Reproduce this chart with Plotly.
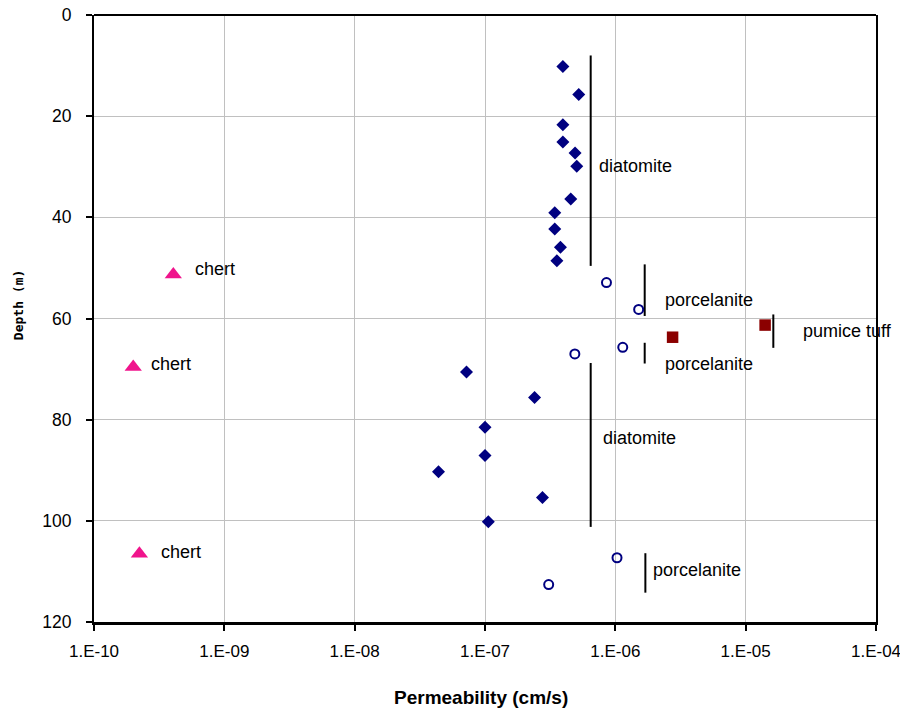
import math
import plotly.graph_objects as go

# ---- data ----
diatomite_perm = [3.96e-7, 5.24e-7, 3.96e-7, 3.96e-7, 4.91e-7, 5.06e-7, 4.55e-7, 3.43e-7, 3.43e-7, 3.79e-7, 3.56e-7,
                  7.21e-8, 2.40e-7, 1.0e-7, 1.0e-7, 4.40e-8, 2.76e-7, 1.06e-7]
diatomite_depth = [10.2, 15.7, 21.7, 25.1, 27.3, 29.9, 36.4, 39.1, 42.3, 45.9, 48.6,
                   70.6, 75.6, 81.5, 87.1, 90.3, 95.4, 100.2]

porcelanite_perm = [8.55e-7, 1.51e-6, 1.14e-6, 4.89e-7, 1.03e-6, 3.08e-7]
porcelanite_depth = [52.9, 58.2, 65.7, 67.0, 107.3, 112.6]

pumice_perm = [2.75e-6, 1.41e-5]
pumice_depth = [63.7, 61.3]

chert_perm = [4.06e-10, 2.0e-10, 2.23e-10]
chert_depth = [51.3, 69.6, 106.5]

# unit bracket segments
seg_perm = [6.47e-7, 1.68e-6, 1.68e-6, 1.63e-5, 6.47e-7, 1.70e-6]
seg_top = [8.0, 49.3, 64.8, 59.2, 68.8, 106.4]
seg_bottom = [49.6, 59.5, 68.9, 65.8, 101.2, 114.2]

# unit labels
label_text = ["diatomite", "porcelanite", "porcelanite", "pumice tuff", "diatomite", "porcelanite",
              "chert", "chert", "chert"]
label_perm = [7.2e-7, 2.31e-6, 2.31e-6, 2.67e-5, 7.73e-7, 1.89e-6, 5.77e-10, 2.65e-10, 3.17e-10]
label_depth = [29.9, 56.4, 68.9, 62.5, 83.7, 109.7, 50.3, 68.9, 106.2]

x_tickvals = [1e-10, 1e-9, 1e-8, 1e-7, 1e-6, 1e-5, 1e-4]
x_ticktext = ["1.E-10", "1.E-09", "1.E-08", "1.E-07", "1.E-06", "1.E-05", "1.E-04"]
y_tickvals = [0, 20, 40, 60, 80, 100, 120]

FONT = "Liberation Sans, Arial, sans-serif"

W, H = 900, 711
ML, MR, MT, MB = 94, 23.5, 14.5, 89

fig = go.Figure()

# bracket lines
lx, ly = [], []
for p, t, b in zip(seg_perm, seg_top, seg_bottom):
    lx += [p, p, None]
    ly += [t, b, None]
fig.add_trace(go.Scatter(x=lx, y=ly, mode="lines", line=dict(color="black", width=2),
                         hoverinfo="skip", showlegend=False))

fig.add_trace(go.Scatter(x=diatomite_perm, y=diatomite_depth, mode="markers", name="diatomite",
                         marker=dict(symbol="diamond", size=10, color="#000080")))
fig.add_trace(go.Scatter(x=porcelanite_perm, y=porcelanite_depth, mode="markers", name="porcelanite",
                         marker=dict(symbol="circle-open", size=9, color="#000080", line=dict(width=2, color="#000080"))))
fig.add_trace(go.Scatter(x=pumice_perm, y=pumice_depth, mode="markers", name="pumice tuff",
                         marker=dict(symbol="square", size=11.5, color="#8B0000")))
fig.add_trace(go.Scatter(x=chert_perm, y=chert_depth, mode="markers", name="chert",
                         marker=dict(symbol="triangle-up", size=15, color="#F0148C")))

for t, p, d in zip(label_text, label_perm, label_depth):
    fig.add_annotation(x=math.log10(p), y=d, xref="x", yref="y", text=t, showarrow=False,
                       xanchor="left", yanchor="middle", font=dict(family=FONT, size=18, color="black"))

# axis titles
fig.add_annotation(xref="paper", yref="paper", x=0.495, y=0, yshift=-75, text="<b>Permeability (cm/s)</b>",
                   showarrow=False, xanchor="center", yanchor="middle",
                   font=dict(family=FONT, size=19, color="black"))
fig.add_annotation(xref="paper", yref="paper", x=0, xshift=-76, y=0.522, text="<b>Depth (m)</b>",
                   textangle=-90, showarrow=False, xanchor="center", yanchor="middle",
                   font=dict(family="DejaVu Sans Mono", size=13, color="black"))

# top frame line
fig.add_shape(type="line", xref="paper", yref="paper", x0=0, x1=1, y0=1, y1=1,
              line=dict(color="black", width=2))

fig.update_layout(
    width=W, height=H,
    margin=dict(l=ML, r=MR, t=MT, b=MB, autoexpand=False),
    paper_bgcolor="white", plot_bgcolor="white",
    showlegend=False,
    font=dict(family=FONT, size=17.5, color="black"),
    xaxis=dict(type="log", range=[-10, -4], tickvals=x_tickvals, ticktext=x_ticktext,
               showgrid=True, gridcolor="#C0C0C0", gridwidth=1,
               showline=True, linecolor="black", linewidth=3, mirror=False,
               ticks="outside", ticklen=6, tickcolor="black", tickwidth=2,
               ticklabelstandoff=6, zeroline=False, automargin=False,
               ticklabeloverflow="allow",
               tickfont=dict(family=FONT, size=17, color="black")),
    yaxis=dict(range=[120, 0], tickvals=y_tickvals,
               showgrid=True, gridcolor="#C0C0C0", gridwidth=1,
               showline=True, linecolor="black", linewidth=2, mirror=True,
               ticks="outside", ticklen=6, tickcolor="black", tickwidth=2,
               ticklabelstandoff=11, zeroline=False, automargin=False,
               ticklabeloverflow="allow",
               tickfont=dict(family=FONT, size=17.5, color="black")),
)

fig.write_html("out.html", config={"displayModeBar": False},
               post_script="document.body.style.margin='0';document.body.style.overflow='hidden';")
